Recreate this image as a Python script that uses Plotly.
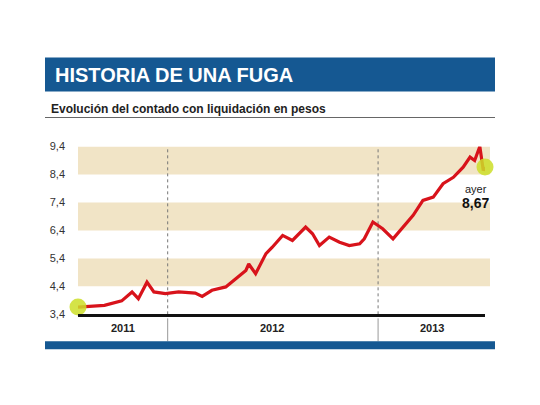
import plotly.graph_objects as go

# contado con liquidacion, pesos per dollar
dates = [
    "2011-07-29", "2011-09-13", "2011-10-13", "2011-10-31", "2011-11-11",
    "2011-11-26", "2011-12-08", "2011-12-28", "2012-01-20", "2012-02-18",
    "2012-03-01", "2012-03-18", "2012-04-11", "2012-04-28", "2012-05-16",
    "2012-05-21", "2012-06-02", "2012-06-20", "2012-07-01", "2012-07-19",
    "2012-08-05", "2012-08-28", "2012-09-09", "2012-09-21", "2012-10-08",
    "2012-10-26", "2012-11-12", "2012-11-30", "2012-12-08", "2012-12-23",
    "2013-01-09", "2013-01-27", "2013-02-13", "2013-03-03", "2013-03-20",
    "2013-04-07", "2013-04-24", "2013-05-12", "2013-05-29", "2013-06-10",
    "2013-06-18", "2013-06-27", "2013-07-03", "2013-07-06",
]
values = [
    3.66, 3.72, 3.88, 4.20, 3.96,
    4.55, 4.20, 4.14, 4.20, 4.16,
    4.04, 4.26, 4.38, 4.67, 4.97,
    5.20, 4.85, 5.57, 5.80, 6.22,
    6.04, 6.52, 6.28, 5.86, 6.16,
    5.98, 5.86, 5.92, 6.10, 6.70,
    6.46, 6.10, 6.52, 6.94, 7.47,
    7.59, 8.07, 8.30, 8.66, 9.02,
    8.90, 9.40, 8.54, 8.67,
]
y_ticks = [3.4, 4.4, 5.4, 6.4, 7.4, 8.4, 9.4]
y_labels = ["3,4", "4,4", "5,4", "6,4", "7,4", "8,4", "9,4"]
bands = [(4.4, 5.4), (6.4, 7.4), (8.4, 9.4)]
years = ["2011", "2012", "2013"]
year_mid = ["2011-10-15", "2012-07-01", "2013-04-05"]
year_breaks = ["2012-01-01", "2013-01-01"]

FONT = "Liberation Sans Narrow, Arial Narrow, Liberation Sans, sans-serif"
BLUE = "#155892"
W, H = 524, 389  # page body keeps an 8px margin


def px(x):
    return (x - 8) / W


def py(y):
    y = (y - 13.4) / 0.97 + 8  # correction measured from the rendered page
    return (H - (y - 8)) / H


fig = go.Figure()
fig.add_trace(go.Scatter(x=dates, y=values, mode="lines", cliponaxis=False,
                         line=dict(color="#d8131b", width=3.2), hoverinfo="skip"))
fig.add_trace(go.Scatter(x=[dates[0], dates[-1]], y=[values[0], values[-1]], mode="markers",
                         cliponaxis=False,
                         marker=dict(size=17, color="rgba(205,222,40,0.85)"), hoverinfo="skip"))

for lo, hi in bands:
    fig.add_shape(type="rect", xref="paper", yref="y", x0=px(78), x1=px(490), y0=lo, y1=hi,
                  fillcolor="#f1e4c6", line_width=0, layer="below")

for d in year_breaks:
    fig.add_shape(type="line", xref="x", yref="y", x0=d, x1=d, y0=3.4, y1=9.4,
                  line=dict(color="#777", width=1, dash="dot"), layer="below")
    fig.add_shape(type="line", xref="x", yref="paper", x0=d, x1=d, y0=py(341), y1=py(318),
                  line=dict(color="#999", width=1))

for name, mid in zip(years, year_mid):
    fig.add_annotation(x=mid, y=py(336), xref="x", yref="paper", text="<b>%s</b>" % name,
                       showarrow=False, font=dict(family=FONT, size=11, color="#222"))

# header
fig.add_shape(type="rect", xref="paper", yref="paper", x0=px(45), x1=px(495),
              y0=py(91), y1=py(57), fillcolor=BLUE, line_width=0)
fig.add_annotation(x=px(53), y=py(74), xref="paper", yref="paper", xanchor="left",
                   yanchor="middle", text="<b>HISTORIA DE UNA FUGA</b>", showarrow=False,
                   font=dict(family=FONT, size=20, color="white"))
fig.add_annotation(x=px(49), y=py(108), xref="paper", yref="paper", xanchor="left",
                   yanchor="middle",
                   text="<b>Evolución del contado con liquidación en pesos</b>", showarrow=False,
                   font=dict(family=FONT, size=12, color="#222"))
fig.add_shape(type="line", xref="paper", yref="paper", x0=px(45), x1=px(495),
              y0=py(117), y1=py(117), line=dict(color="#666", width=1))
fig.add_shape(type="rect", xref="paper", yref="paper", x0=px(45), x1=px(495),
              y0=py(349), y1=py(341), fillcolor=BLUE, line_width=0)

fig.add_annotation(x=dates[-1], y=values[-1], text="ayer", showarrow=False, yshift=-22,
                   xanchor="right", xshift=4, font=dict(family=FONT, size=11, color="#222"))
fig.add_annotation(x=dates[-1], y=values[-1], text="<b>8,67</b>", showarrow=False, yshift=-36,
                   xanchor="right", xshift=6, font=dict(family=FONT, size=14, color="#111"))

fig.update_layout(
    width=W, height=H, margin=dict(l=0, r=0, t=0, b=0),
    paper_bgcolor="white", plot_bgcolor="rgba(0,0,0,0)", showlegend=False,
    xaxis=dict(domain=[px(78), px(485)], range=["2011-07-29", "2013-07-06"],
               showticklabels=False, showgrid=False, zeroline=False,
               showline=True, linecolor="#111", linewidth=3),
    yaxis=dict(domain=[py(314), py(146)], range=[3.4, 9.4],
               tickvals=y_ticks, ticktext=y_labels, showgrid=False, zeroline=False,
               ticks="", ticklabelstandoff=12,
               tickfont=dict(family=FONT, size=11, color="#333")),
)

fig.write_html("out.html")
